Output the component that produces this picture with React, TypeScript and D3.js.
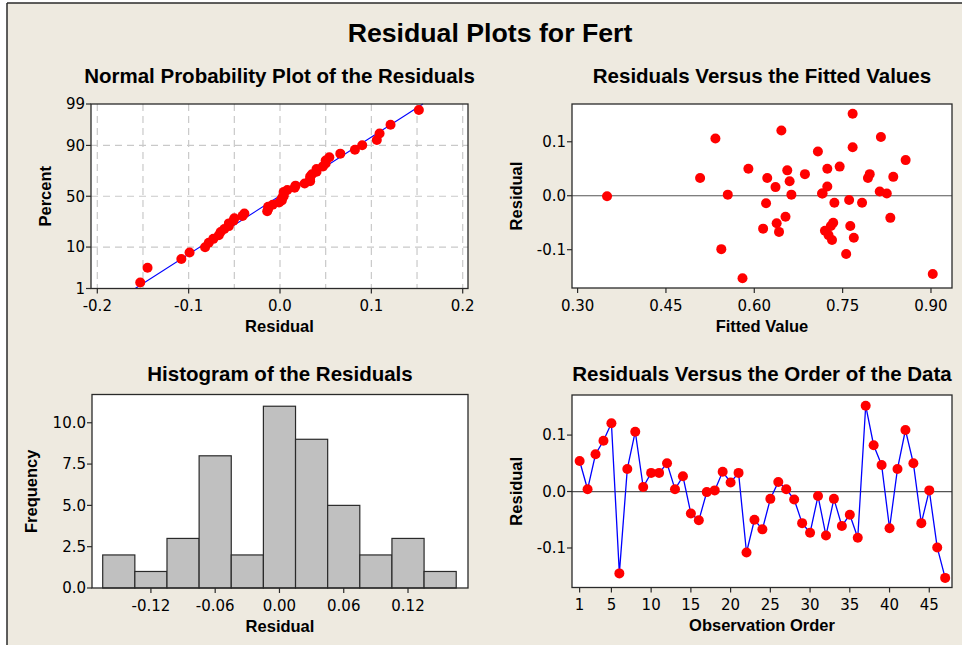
import * as d3 from 'd3';
import React from 'react';

// residuals in observation order
const residuals = [
  0.054, 0.004, 0.066, 0.090, 0.121, -0.145, 0.040, 0.106, 0.008, 0.033,
  0.033, 0.050, 0.004, 0.027, -0.039, -0.051, -0.001, 0.002, 0.035, 0.016,
  0.033, -0.108, -0.050, -0.067, -0.013, 0.017, 0.004, -0.014, -0.056, -0.073,
  -0.008, -0.078, -0.013, -0.061, -0.041, -0.082, 0.152, 0.082, 0.047, -0.065,
  0.040, 0.109, 0.050, -0.056, 0.002, -0.099, -0.153,
];

// fitted values, same order
const fitted = [
  0.745, 0.825, 0.857, 0.767, 0.646, 0.903, 0.686, 0.534, 0.813, 0.508,
  0.622, 0.590, 0.716, 0.660, 0.653, 0.638, 0.350, 0.663, 0.836, 0.636,
  0.793, 0.756, 0.734, 0.642, 0.736, 0.724, 0.715, 0.620, 0.730, 0.726,
  0.761, 0.769, 0.783, 0.615, 0.831, 0.732, 0.767, 0.708, 0.656, 0.720,
  0.796, 0.815, 0.724, 0.763, 0.555, 0.544, 0.580,
];

// histogram bins (centres) and counts
const binCenters = [-0.15, -0.12, -0.09, -0.06, -0.03, 0.0, 0.03, 0.06, 0.09, 0.12, 0.15];
const binCounts = [2, 1, 3, 8, 2, 11, 9, 5, 2, 3, 1];
const binWidth = 0.03;

// tick values
const nppXTicks = [-0.2, -0.1, 0.0, 0.1, 0.2];
const nppXGrid = [-0.2, -0.15, -0.1, -0.05, 0, 0.05, 0.1, 0.15, 0.2];
const nppYTicks = [1, 10, 50, 90, 99];
const fitXTicks = [0.3, 0.45, 0.6, 0.75, 0.9];
const residTicks = [-0.1, 0.0, 0.1];
const histXTicks = [-0.12, -0.06, 0.0, 0.06, 0.12];
const histYTicks = [0, 2.5, 5, 7.5, 10];
const orderXTicks = [1, 5, 10, 15, 20, 25, 30, 35, 40, 45];

const TICKFONT = '"DejaVu Sans", Verdana, sans-serif';
const BOLDFONT = '"Liberation Sans", Arial, sans-serif';
const FRAME = '#2a2a2a';

// inverse normal cdf (Acklam)
function probit(p: number) {
  const a = [-3.969683028665376e1, 2.209460984245205e2, -2.759285104469687e2, 1.38357751867269e2, -3.066479806614716e1, 2.506628277459239];
  const b = [-5.447609879822406e1, 1.615858368580409e2, -1.556989798598866e2, 6.680131188771972e1, -1.328068155288572e1];
  const c = [-7.784894002430293e-3, -3.223964580411365e-1, -2.400758277161838, -2.549732539343734, 4.374664141464968, 2.938163982698783];
  const d = [7.784695709041462e-3, 3.224671290700398e-1, 2.445134137142996, 3.754408661907416];
  const pl = 0.02425;
  if (p < pl) {
    const q = Math.sqrt(-2 * Math.log(p));
    return (((((c[0] * q + c[1]) * q + c[2]) * q + c[3]) * q + c[4]) * q + c[5]) / ((((d[0] * q + d[1]) * q + d[2]) * q + d[3]) * q + 1);
  }
  if (p <= 1 - pl) {
    const q = p - 0.5, r = q * q;
    return (((((a[0] * r + a[1]) * r + a[2]) * r + a[3]) * r + a[4]) * r + a[5]) * q / (((((b[0] * r + b[1]) * r + b[2]) * r + b[3]) * r + b[4]) * r + 1);
  }
  return -probit(1 - p);
}

type Box = { x0: number; x1: number; y0: number; y1: number };

const P1: Box = { x0: 91, x1: 468, y0: 104, y1: 288.5 };
const P2: Box = { x0: 572, x1: 952, y0: 104, y1: 288 };
const P3: Box = { x0: 92, x1: 468, y0: 394.5, y1: 588 };
const P4: Box = { x0: 572, x1: 952, y0: 395, y1: 587.5 };

const PanelTitle = ({ b, y, text }: { b: Box; y: number; text: string }) => (
  <text x={(b.x0 + b.x1) / 2} y={y} textAnchor="middle" fontFamily={BOLDFONT} fontWeight="bold" fontSize={20.5}>{text}</text>
);

const XAxis = ({ b, scale, ticks, fmt, label }: any) => (
  <g>
    {ticks.map((t: number) => (
      <g key={'xt' + t}>
        <line x1={scale(t)} x2={scale(t)} y1={b.y1} y2={b.y1 + 5} stroke={FRAME} strokeWidth={1.2} />
        <text x={scale(t)} y={b.y1 + 22.5} textAnchor="middle" fontFamily={TICKFONT} fontSize={15}>{fmt(t)}</text>
      </g>
    ))}
    <text x={(b.x0 + b.x1) / 2} y={b.y1 + 43.5} textAnchor="middle" fontFamily={BOLDFONT} fontWeight="bold" fontSize={16.5}>{label}</text>
  </g>
);

const YAxis = ({ b, scale, ticks, fmt, label, off }: any) => (
  <g>
    {ticks.map((t: number) => (
      <g key={'yt' + t}>
        <line x1={b.x0 - 5} x2={b.x0} y1={scale(t)} y2={scale(t)} stroke={FRAME} strokeWidth={1.2} />
        <text x={b.x0 - 6} y={scale(t)} dy="0.36em" textAnchor="end" fontFamily={TICKFONT} fontSize={15}>{fmt(t)}</text>
      </g>
    ))}
    <text transform={`translate(${b.x0 - off},${(b.y0 + b.y1) / 2}) rotate(-90)`} textAnchor="middle" fontFamily={BOLDFONT} fontWeight="bold" fontSize={16.5}>{label}</text>
  </g>
);

const Frame = ({ b }: { b: Box }) => (
  <rect x={b.x0} y={b.y0} width={b.x1 - b.x0} height={b.y1 - b.y0} fill="none" stroke={FRAME} strokeWidth={1.3} />
);

const PlotBg = ({ b }: { b: Box }) => (
  <rect x={b.x0} y={b.y0} width={b.x1 - b.x0} height={b.y1 - b.y0} fill="#ffffff" />
);

const App = () => {
  const n = residuals.length;

  // normal probability plot
  const nx = d3.scaleLinear().domain([-0.2069, 0.2058]).range([P1.x0, P1.x1]);
  const ny = d3.scaleLinear().domain([probit(0.01), probit(0.99)]).range([P1.y1, P1.y0]);
  const sorted = residuals.slice().sort(d3.ascending);
  const nppPts = sorted.map((r, i) => ({ r, z: probit((i + 1 - 0.3) / (n + 0.4)) }));
  const mu = d3.mean(residuals) as number;
  const sd = d3.deviation(residuals) as number;
  const zLo = probit(0.01), zHi = probit(0.99);

  // fitted
  const fx = d3.scaleLinear().domain([0.2905, 0.9357]).range([P2.x0, P2.x1]);
  const fy = d3.scaleLinear().domain([-0.171, 0.17]).range([P2.y1, P2.y0]);

  // histogram
  const hx = d3.scaleLinear().domain([-0.175, 0.176]).range([P3.x0, P3.x1]);
  const hy = d3.scaleLinear().domain([0, 11.71]).range([P3.y1, P3.y0]);

  // order
  const ox = d3.scaleLinear().domain([0.04, 47.86]).range([P4.x0, P4.x1]);
  const oy = d3.scaleLinear().domain([-0.17, 0.171]).range([P4.y1, P4.y0]);
  const orderLine = d3.line<number>().x((_, i) => ox(i + 1)).y((r) => oy(r));

  return (
    <svg width={962} height={645} style={{ position: 'absolute', left: 0, top: 0 }}>
      <rect x={0} y={0} width={962} height={645} fill="#ffffff" />
      <rect x={7} y={3} width={955} height={642} fill="#EEEAE0" />
      <line x1={7} x2={962} y1={3} y2={3} stroke={FRAME} strokeWidth={1.5} />
      <line x1={7} x2={7} y1={3} y2={645} stroke={FRAME} strokeWidth={1.5} />

      <text x={490} y={41.5} textAnchor="middle" fontFamily={BOLDFONT} fontWeight="bold" fontSize={26.7}>Residual Plots for Fert</text>

      {/* Normal probability plot */}
      <PanelTitle b={P1} y={83} text="Normal Probability Plot of the Residuals" />
      <PlotBg b={P1} />
      {nppXGrid.map((t) => (
        <line key={'gx' + t} x1={nx(t)} x2={nx(t)} y1={P1.y0} y2={P1.y1} stroke="#C9C9C9" strokeWidth={1.2} strokeDasharray="7,5" />
      ))}
      {nppYTicks.slice(1, -1).map((t) => (
        <line key={'gy' + t} x1={P1.x0} x2={P1.x1} y1={ny(probit(t / 100))} y2={ny(probit(t / 100))} stroke="#C9C9C9" strokeWidth={1.2} strokeDasharray="7,5" />
      ))}
      <line x1={nx(mu + sd * zLo)} y1={ny(zLo)} x2={nx(mu + sd * zHi)} y2={ny(zHi)} stroke="#0000FF" strokeWidth={1.1} />
      {nppPts.map((d, i) => (
        <circle key={'np' + i} cx={nx(d.r)} cy={ny(d.z)} r={5} fill="#FF0000" />
      ))}
      <Frame b={P1} />
      <XAxis b={P1} scale={nx} ticks={nppXTicks} fmt={(t: number) => t.toFixed(1)} label="Residual" />
      <YAxis b={P1} scale={(t: number) => ny(probit(t / 100))} ticks={nppYTicks} fmt={(t: number) => String(t)} label="Percent" off={40} />

      {/* Residuals vs fitted */}
      <PanelTitle b={P2} y={83} text="Residuals Versus the Fitted Values" />
      <PlotBg b={P2} />
      <line x1={P2.x0} x2={P2.x1} y1={fy(0)} y2={fy(0)} stroke="#555" strokeWidth={1.2} />
      {fitted.map((f, i) => (
        <circle key={'fp' + i} cx={fx(f)} cy={fy(residuals[i])} r={5} fill="#FF0000" />
      ))}
      <Frame b={P2} />
      <XAxis b={P2} scale={fx} ticks={fitXTicks} fmt={(t: number) => t.toFixed(2)} label="Fitted Value" />
      <YAxis b={P2} scale={fy} ticks={residTicks} fmt={(t: number) => t.toFixed(1)} label="Residual" off={50} />

      {/* Histogram */}
      <PanelTitle b={P3} y={381} text="Histogram of the Residuals" />
      <PlotBg b={P3} />
      {binCenters.map((c, i) => (
        <rect key={'hb' + i} x={hx(c - binWidth / 2)} y={hy(binCounts[i])} width={hx(c + binWidth / 2) - hx(c - binWidth / 2)} height={hy(0) - hy(binCounts[i])} fill="#C0C0C0" stroke={FRAME} strokeWidth={1.2} />
      ))}
      <Frame b={P3} />
      <XAxis b={P3} scale={hx} ticks={histXTicks} fmt={(t: number) => t.toFixed(2)} label="Residual" />
      <YAxis b={P3} scale={hy} ticks={histYTicks} fmt={(t: number) => t.toFixed(1)} label="Frequency" off={55.5} />

      {/* Residuals vs order */}
      <PanelTitle b={P4} y={381} text="Residuals Versus the Order of the Data" />
      <PlotBg b={P4} />
      <line x1={P4.x0} x2={P4.x1} y1={oy(0)} y2={oy(0)} stroke="#555" strokeWidth={1.2} />
      <path d={orderLine(residuals) as string} fill="none" stroke="#0000FF" strokeWidth={1.3} />
      {residuals.map((r, i) => (
        <circle key={'op' + i} cx={ox(i + 1)} cy={oy(r)} r={5} fill="#FF0000" />
      ))}
      <Frame b={P4} />
      <XAxis b={P4} scale={ox} ticks={orderXTicks} fmt={(t: number) => String(t)} label="Observation Order" />
      <YAxis b={P4} scale={oy} ticks={residTicks} fmt={(t: number) => t.toFixed(1)} label="Residual" off={50} />
    </svg>
  );
};

export default App;
